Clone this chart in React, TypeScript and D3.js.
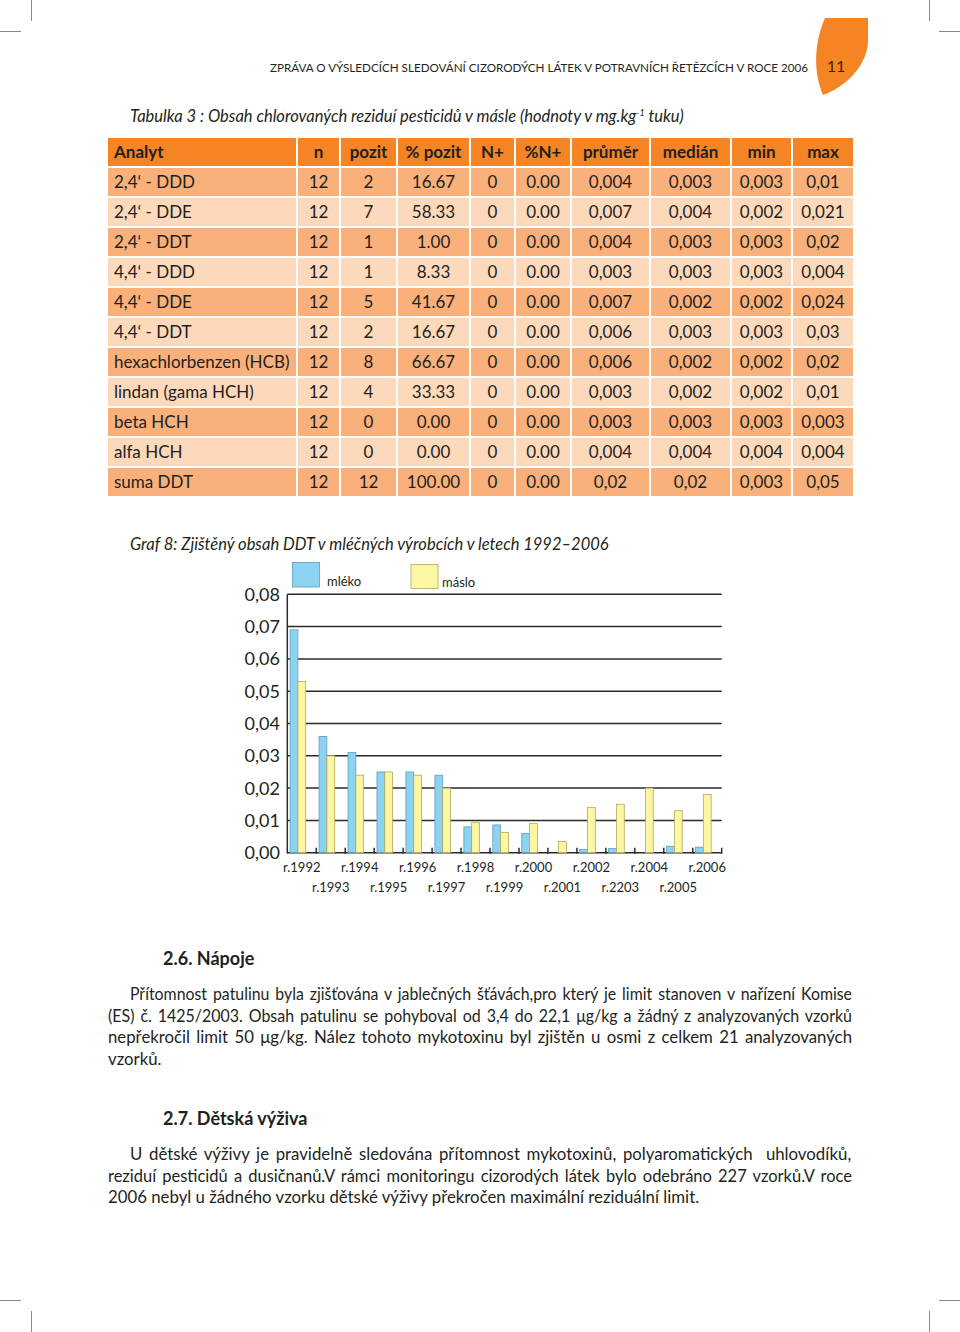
import React from "react";
import * as d3 from "d3";

// ---------- Table data ----------
const tableHeaders = ["Analyt", "n", "pozit", "% pozit", "N+", "%N+", "průměr", "medián", "min", "max"];
const analytes = ["2,4‘ - DDD", "2,4‘ - DDE", "2,4‘ - DDT", "4,4‘ - DDD", "4,4‘ - DDE", "4,4‘ - DDT", "hexachlorbenzen (HCB)", "lindan (gama HCH)", "beta HCH", "alfa HCH", "suma DDT"];
const colN = ["12", "12", "12", "12", "12", "12", "12", "12", "12", "12", "12"];
const colPozit = ["2", "7", "1", "1", "5", "2", "8", "4", "0", "0", "12"];
const colPctPozit = ["16.67", "58.33", "1.00", "8.33", "41.67", "16.67", "66.67", "33.33", "0.00", "0.00", "100.00"];
const colNPlus = ["0", "0", "0", "0", "0", "0", "0", "0", "0", "0", "0"];
const colPctNPlus = ["0.00", "0.00", "0.00", "0.00", "0.00", "0.00", "0.00", "0.00", "0.00", "0.00", "0.00"];
const colPrumer = ["0,004", "0,007", "0,004", "0,003", "0,007", "0,006", "0,006", "0,003", "0,003", "0,004", "0,02"];
const colMedian = ["0,003", "0,004", "0,003", "0,003", "0,002", "0,003", "0,002", "0,002", "0,003", "0,004", "0,02"];
const colMin = ["0,003", "0,002", "0,003", "0,003", "0,002", "0,003", "0,002", "0,002", "0,003", "0,004", "0,003"];
const colMax = ["0,01", "0,021", "0,02", "0,004", "0,024", "0,03", "0,02", "0,01", "0,003", "0,004", "0,05"];

// ---------- Chart data ----------
const years = ["r.1992", "r.1993", "r.1994", "r.1995", "r.1996", "r.1997", "r.1998", "r.1999", "r.2000", "r.2001", "r.2002", "r.2203", "r.2004", "r.2005", "r.2006"];
const mleko = [0.069, 0.036, 0.031, 0.025, 0.025, 0.024, 0.008, 0.0086, 0.006, 0, 0.001, 0.0013, 0, 0.002, 0.0017];
const maslo = [0.053, 0.030, 0.024, 0.025, 0.024, 0.020, 0.0093, 0.0063, 0.009, 0.0035, 0.014, 0.015, 0.020, 0.013, 0.018];
const seriesNames = ["mléko", "máslo"];
const yTicks = [0, 0.01, 0.02, 0.03, 0.04, 0.05, 0.06, 0.07, 0.08];

// ---------- Text ----------
const headerLine = "ZPRÁVA O VÝSLEDCÍCH SLEDOVÁNÍ CIZORODÝCH LÁTEK V POTRAVNÍCH ŘETĚZCÍCH V ROCE 2006";
const pageNo = "11";
const sec26 = "2.6. Nápoje";
const para26 = [
  "Přítomnost patulinu byla zjišťována v jablečných šťávách,pro který je limit stanoven v nařízení Komise",
  "(ES) č. 1425/2003. Obsah patulinu se pohyboval od 3,4 do 22,1 μg/kg a žádný z analyzovaných vzorků",
  "nepřekročil limit 50 μg/kg. Nález tohoto mykotoxinu byl zjištěn u osmi z celkem 21 analyzovaných",
  "vzorků.",
];
const sec27 = "2.7. Dětská výživa";
const para27 = [
  "U dětské výživy je pravidelně sledována přítomnost mykotoxinů, polyaromatických  uhlovodíků,",
  "reziduí pesticidů a dusičnanů.V rámci monitoringu cizorodých látek bylo odebráno 227 vzorků.V roce",
  "2006 nebyl u žádného vzorku dětské výživy překročen maximální reziduální limit.",
];

const FONT = "Lato, 'Open Sans', sans-serif";
const ORANGE = "#f58424";
const ROW_DARK = "#f9b07a";
const ROW_LIGHT = "#fdd9bb";
const TXT = "#231f20";
const PARA_SIZE = 16.8;
const MIN_WS = 2;

let _ctx: CanvasRenderingContext2D | null = null;
function measure(text: string, font: string): number {
  if (!_ctx) _ctx = document.createElement("canvas").getContext("2d");
  if (!_ctx) return text.length * 8;
  _ctx.font = font;
  return _ctx.measureText(text).width;
}

function JustLine({ text, x, x1, y, size, justify }: any) {
  const natural = measure(text, `${size}px Lato`);
  const spaces = (text.match(/ /g) || []).length;
  const target = x1 - x;
  let ws = justify && spaces > 0 ? (target - natural) / spaces : 0;
  let squeeze = false;
  if (justify && ws < MIN_WS) {
    ws = MIN_WS;
    squeeze = true;
  }
  const extra: any = squeeze ? { textLength: target, lengthAdjust: "spacingAndGlyphs" } : {};
  return (
    <text x={x} y={y} fontSize={size} fill={TXT} style={{ wordSpacing: `${ws}px`, whiteSpace: "pre" }} {...extra}>
      {text}
    </text>
  );
}

export default function App() {
  // ---- table layout ----
  const colEdges = [108, 297, 340, 397, 470, 515, 571, 650, 731, 792, 853];
  const rowTop = 138;
  const rowPitch = 30;
  const rowH = 28;
  const columns = [analytes, colN, colPozit, colPctPozit, colNPlus, colPctNPlus, colPrumer, colMedian, colMin, colMax];

  // ---- chart layout ----
  const x0 = 287.3, x1 = 721.7, yBase = 852.7, yTop = 594.3;
  const x = d3.scaleBand<string>().domain(years).range([x0, x1]).paddingInner(0).paddingOuter(0);
  const xs = d3.scaleBand<string>().domain(seriesNames).range([2.8, 18.4]);
  const y = d3.scaleLinear().domain([0, 0.08]).range([yBase, yTop]);
  const fmt = (v: number) => d3.format(".2f")(v).replace(".", ",");
  const seriesData = [mleko, maslo];
  const fills = ["#8dd3f1", "#fdf6a2"];
  const strokes = ["#5a9fbf", "#b4a85a"];

  return (
    <div style={{ position: "absolute", left: 0, top: 0 }}>
      <svg width={960} height={1332} fontFamily={FONT} style={{ display: "block", background: "#fff" }}>
        {/* crop marks */}
        <g stroke="#8a8a8a" strokeWidth={1}>
          <line x1={31.5} y1={0} x2={31.5} y2={21} />
          <line x1={0} y1={31.5} x2={21} y2={31.5} />
          <line x1={929.5} y1={0} x2={929.5} y2={21} />
          <line x1={939} y1={31.5} x2={960} y2={31.5} />
          <line x1={0} y1={1300.5} x2={21} y2={1300.5} />
          <line x1={31.5} y1={1311} x2={31.5} y2={1332} />
          <line x1={939} y1={1300.5} x2={960} y2={1300.5} />
          <line x1={929.5} y1={1311} x2={929.5} y2={1332} />
        </g>

        {/* header tab */}
        <path d="M825,18 L868,18 L868,40 C868,62 850,85 823,95 C814,75 813,45 825,18 Z" fill={ORANGE} />
        <text x={836} y={72} fontSize={16} fill="#3b2314" textAnchor="middle">{pageNo}</text>
        <text x={270} y={72} fontSize={11.5} fill={TXT} textLength={538} lengthAdjust="spacingAndGlyphs">{headerLine}</text>

        {/* table title */}
        <text x={130} y={122} fontSize={16.5} fontStyle="italic" fill={TXT}>
          Tabulka 3 : Obsah chlorovaných reziduí pesticidů v másle (hodnoty v mg.kg
          <tspan dy={-6} fontSize={9}>-1</tspan>
          <tspan dy={6}> tuku)</tspan>
        </text>

        {/* table */}
        {tableHeaders.map((h, j) => {
          const cx0 = colEdges[j] + (j > 0 ? 1 : 0);
          const cx1 = colEdges[j + 1] - (j < 9 ? 1 : 0);
          return (
            <g key={"h" + j}>
              <rect x={cx0} y={rowTop} width={cx1 - cx0} height={rowH} fill={ORANGE} />
              <text x={j === 0 ? cx0 + 6 : (cx0 + cx1) / 2} y={rowTop + rowH / 2 + 6} fontSize={17} fontWeight="bold" fill={TXT} textAnchor={j === 0 ? "start" : "middle"}>{h}</text>
            </g>
          );
        })}
        {analytes.map((_, i) => {
          const top = rowTop + (i + 1) * rowPitch;
          const fill = i % 2 === 0 ? ROW_DARK : ROW_LIGHT;
          return (
            <g key={"r" + i}>
              {columns.map((col, j) => {
                const cx0 = colEdges[j] + (j > 0 ? 1 : 0);
                const cx1 = colEdges[j + 1] - (j < 9 ? 1 : 0);
                return (
                  <g key={j}>
                    <rect x={cx0} y={top} width={cx1 - cx0} height={rowH} fill={fill} />
                    <text x={j === 0 ? cx0 + 6 : (cx0 + cx1) / 2} y={top + rowH / 2 + 6} fontSize={17} fill={TXT} textAnchor={j === 0 ? "start" : "middle"}>{col[i]}</text>
                  </g>
                );
              })}
            </g>
          );
        })}

        {/* chart title */}
        <text x={130} y={550} fontSize={16.5} fontStyle="italic" fill={TXT}>Graf 8: Zjištěný obsah DDT v mléčných výrobcích v letech 1992–2006</text>

        {/* legend */}
        <rect x={292.5} y={562.5} width={27} height={24.5} fill={fills[0]} stroke={strokes[0]} strokeWidth={0.8} />
        <text x={327} y={586} fontSize={13} fill={TXT}>{seriesNames[0]}</text>
        <rect x={411} y={564.5} width={27} height={24} fill={fills[1]} stroke={strokes[1]} strokeWidth={0.8} />
        <text x={442} y={587} fontSize={13} fill={TXT}>{seriesNames[1]}</text>

        {/* grid lines */}
        <g stroke="#2b2b2b" strokeWidth={1.5}>
          {yTicks.map((t) => (
            <line key={t} x1={x0} x2={x1} y1={y(t)} y2={y(t)} />
          ))}
          <line x1={x0} x2={x0} y1={y(0.08)} y2={y(0) + 0.75} />
          {years.map((yr) => (
            <line key={yr} x1={(x(yr) as number) + x.bandwidth()} x2={(x(yr) as number) + x.bandwidth()} y1={y(0) - 5} y2={y(0) + 1} />
          ))}
        </g>
        {yTicks.map((t) => (
          <text key={t} x={280} y={y(t) + 6.5} fontSize={18} textAnchor="end" fill={TXT}>{fmt(t)}</text>
        ))}

        {/* bars */}
        {seriesData.map((vals, s) => (
          <g key={s}>
            {vals.map((v, i) =>
              v > 0 ? (
                <rect
                  key={i}
                  x={(x(years[i]) as number) + (xs(seriesNames[s]) as number)}
                  y={y(v)}
                  width={xs.bandwidth()}
                  height={y(0) - y(v)}
                  fill={fills[s]}
                  stroke={strokes[s]}
                  strokeWidth={0.8}
                />
              ) : null
            )}
          </g>
        ))}

        {/* x labels */}
        {years.map((yr, i) => (
          <text key={yr} x={(x(yr) as number) + x.bandwidth() / 2} y={i % 2 === 0 ? 872 : 892} fontSize={13} textAnchor="middle" fill={TXT}>{yr}</text>
        ))}

        {/* section 2.6 */}
        <text x={163} y={965} fontSize={18} fontWeight="bold" fill={TXT}>{sec26}</text>
        {para26.map((l, i) => (
          <JustLine key={i} text={l} x={i === 0 ? 130 : 108} x1={852} y={1000 + i * 21.5} size={PARA_SIZE} justify={i < para26.length - 1} />
        ))}

        {/* section 2.7 */}
        <text x={163} y={1125} fontSize={18} fontWeight="bold" fill={TXT}>{sec27}</text>
        {para27.map((l, i) => (
          <JustLine key={i} text={l} x={i === 0 ? 130 : 108} x1={852} y={1160 + i * 21.5} size={PARA_SIZE} justify={i < para27.length - 1} />
        ))}
      </svg>
    </div>
  );
}
